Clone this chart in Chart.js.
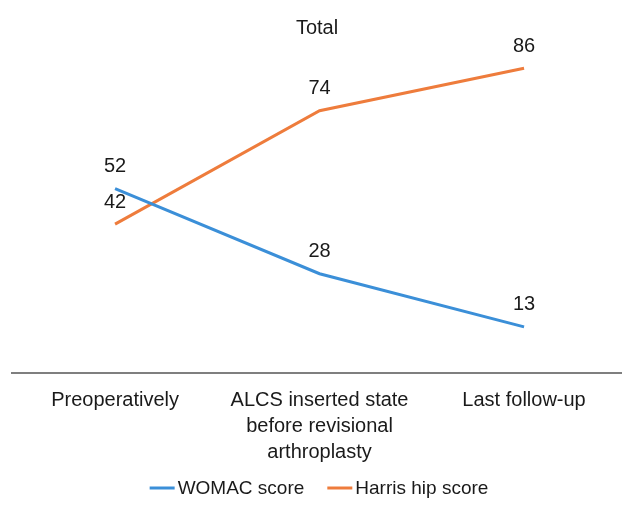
<!DOCTYPE html>
<html>
<head>
<meta charset="utf-8">
<script src="https://cdn.jsdelivr.net/npm/chart.js@4.4.0/dist/chart.umd.min.js"></script>
<style>
  html, body { margin: 0; padding: 0; background: #ffffff; }
  #wrap { width: 622px; height: 505px; }
</style>
</head>
<body>
<div id="wrap"><canvas id="c" width="622" height="505"></canvas></div>
<script>
// Time points along the x axis (multi-line labels)
const categories = [
  ['Preoperatively'],
  ['ALCS inserted state', 'before revisional', 'arthroplasty'],
  ['Last follow-up']
];
const seriesNames = ['WOMAC score', 'Harris hip score'];
const womacScores = [52, 28, 13];
const harrisScores = [42, 74, 86];
const chartTitle = 'Total';

const FONT = "'Liberation Sans', Arial, sans-serif";
const BLUE = '#3b8fd8';
const ORANGE = '#ee7c3c';
const TEXT = '#1a1a1a';

const toPoints = vals => vals.map((v, i) => ({ x: i, y: v }));

// Writes each point's value just above it
const valueLabels = {
  id: 'valueLabels',
  afterDatasetsDraw(chart) {
    const ctx = chart.ctx;
    ctx.save();
    ctx.font = '20px ' + FONT;
    ctx.fillStyle = TEXT;
    ctx.textAlign = 'center';
    ctx.textBaseline = 'middle';
    chart.data.datasets.forEach((ds, di) => {
      const meta = chart.getDatasetMeta(di);
      meta.data.forEach((pt, i) => {
        ctx.fillText(String(ds.data[i].y), pt.x, pt.y - 22);
      });
    });
    ctx.restore();
  }
};

// Compact legend: short line swatch followed closely by the series name
const lineLegend = {
  id: 'lineLegend',
  afterDraw(chart) {
    const ctx = chart.ctx;
    const y = 488;
    const swatch = 25, gap = 3, itemGap = 23;
    ctx.save();
    ctx.font = '19px ' + FONT;
    ctx.textBaseline = 'middle';
    ctx.textAlign = 'left';
    const items = chart.data.datasets.map(ds => ({
      label: ds.label, color: ds.borderColor,
      w: swatch + gap + ctx.measureText(ds.label).width
    }));
    const total = items.reduce((s, it) => s + it.w, 0) + itemGap * (items.length - 1);
    let x = (chart.width - total) / 2 + 8;
    items.forEach(it => {
      ctx.strokeStyle = it.color;
      ctx.lineWidth = 3;
      ctx.beginPath();
      ctx.moveTo(x, y);
      ctx.lineTo(x + swatch, y);
      ctx.stroke();
      ctx.fillStyle = TEXT;
      ctx.fillText(it.label, x + swatch + gap, y + 1);
      x += it.w + itemGap;
    });
    ctx.restore();
  }
};

new Chart(document.getElementById('c'), {
  type: 'line',
  data: {
    datasets: [
      {
        label: seriesNames[0],
        data: toPoints(womacScores),
        borderColor: BLUE,
        backgroundColor: BLUE,
        borderWidth: 3,
        pointRadius: 0,
        tension: 0
      },
      {
        label: seriesNames[1],
        data: toPoints(harrisScores),
        borderColor: ORANGE,
        backgroundColor: ORANGE,
        borderWidth: 3,
        pointRadius: 0,
        tension: 0
      }
    ]
  },
  options: {
    responsive: false,
    animation: false,
    layout: { padding: { left: 12, right: 0, top: 0, bottom: 26 } },
    scales: {
      x: {
        type: 'linear',
        min: -0.504,
        max: 2.479,
        grid: { display: false, drawTicks: false },
        border: { display: true, color: '#7f7f7f', width: 2 },
        ticks: {
          stepSize: 1,
          includeBounds: false,
          autoSkip: false,
          maxRotation: 0,
          padding: 14,
          color: TEXT,
          font: { family: FONT, size: 20, lineHeight: 1.3 },
          callback: v => categories[v] || ''
        }
      },
      y: {
        display: false,
        min: 0,
        max: 90
      }
    },
    plugins: {
      title: {
        display: true,
        text: chartTitle,
        color: TEXT,
        font: { family: FONT, size: 20, weight: 'normal', lineHeight: 1.2 },
        padding: { top: 16, bottom: 14 }
      },
      legend: { display: false },
      tooltip: { enabled: false }
    }
  },
  plugins: [valueLabels, lineLegend]
});
</script>
</body>
</html>
